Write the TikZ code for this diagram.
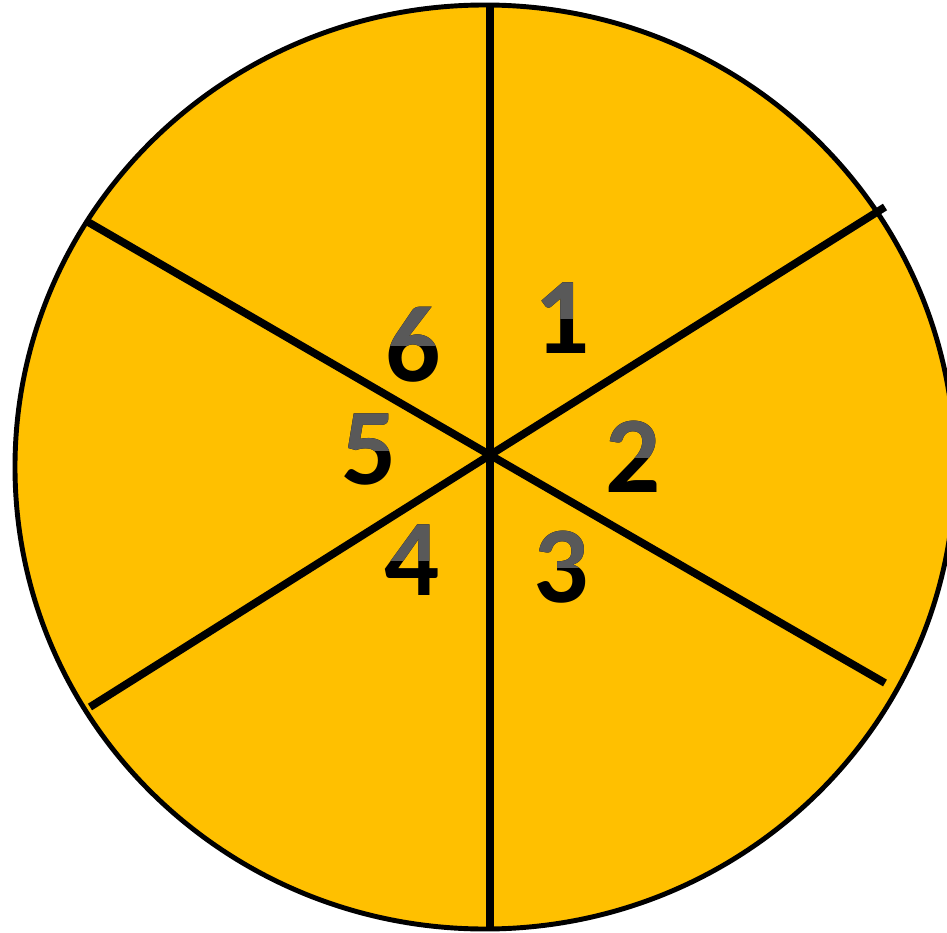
\documentclass[tikz,border=0pt]{standalone}
\usepackage{fontspec}
\setsansfont{Carlito}
\usepackage{tikz}
\usepackage{xcolor}

\definecolor{wheelgold}{HTML}{FFC000}
\definecolor{numgray}{HTML}{595959}
\tikzset{num/.style={font=\sffamily\bfseries\fontsize{31}{33}\selectfont,inner sep=0pt}}

\begin{document}
\begin{tikzpicture}
\useasboundingbox (-4.90,-4.77) rectangle (4.57,4.55);
\clip (-4.90,-4.77) rectangle (4.57,4.55);
\draw[line width=1.4pt,fill=wheelgold] (-0.05,-0.12) ellipse[x radius=4.70,y radius=4.62];
\coordinate (c) at (0,0);
\coordinate (top) at (0,4.49);
\coordinate (bot) at (0,-4.72);
\coordinate (ur) at (3.95,2.48);
\coordinate (ll) at (-4.00,-2.52);
\coordinate (ul) at (-4.02,2.33);
\coordinate (lr) at (3.95,-2.28);
\draw[line width=2.2pt] (top)--(c)--(bot);
\draw[line width=2.2pt] (ur)--(c)--(ll);
\draw[line width=2.2pt] (ul)--(c)--(lr);
\foreach \n/\x/\y in {1/0.72/1.37,2/1.43/-0.02,3/0.71/-1.12,4/-0.78/-1.05,5/-1.21/0.05,6/-0.77/1.10}{
  \node[num] (d\n) at (\x,\y) {\n};
  \begin{scope}
    \clip ([yshift=2pt]d\n.north west) rectangle ([xshift=2pt]d\n.east);
    \node[num,text=numgray] (g\n) at (\x,\y) {\n};
  \end{scope}
}
\end{tikzpicture}
\end{document}
